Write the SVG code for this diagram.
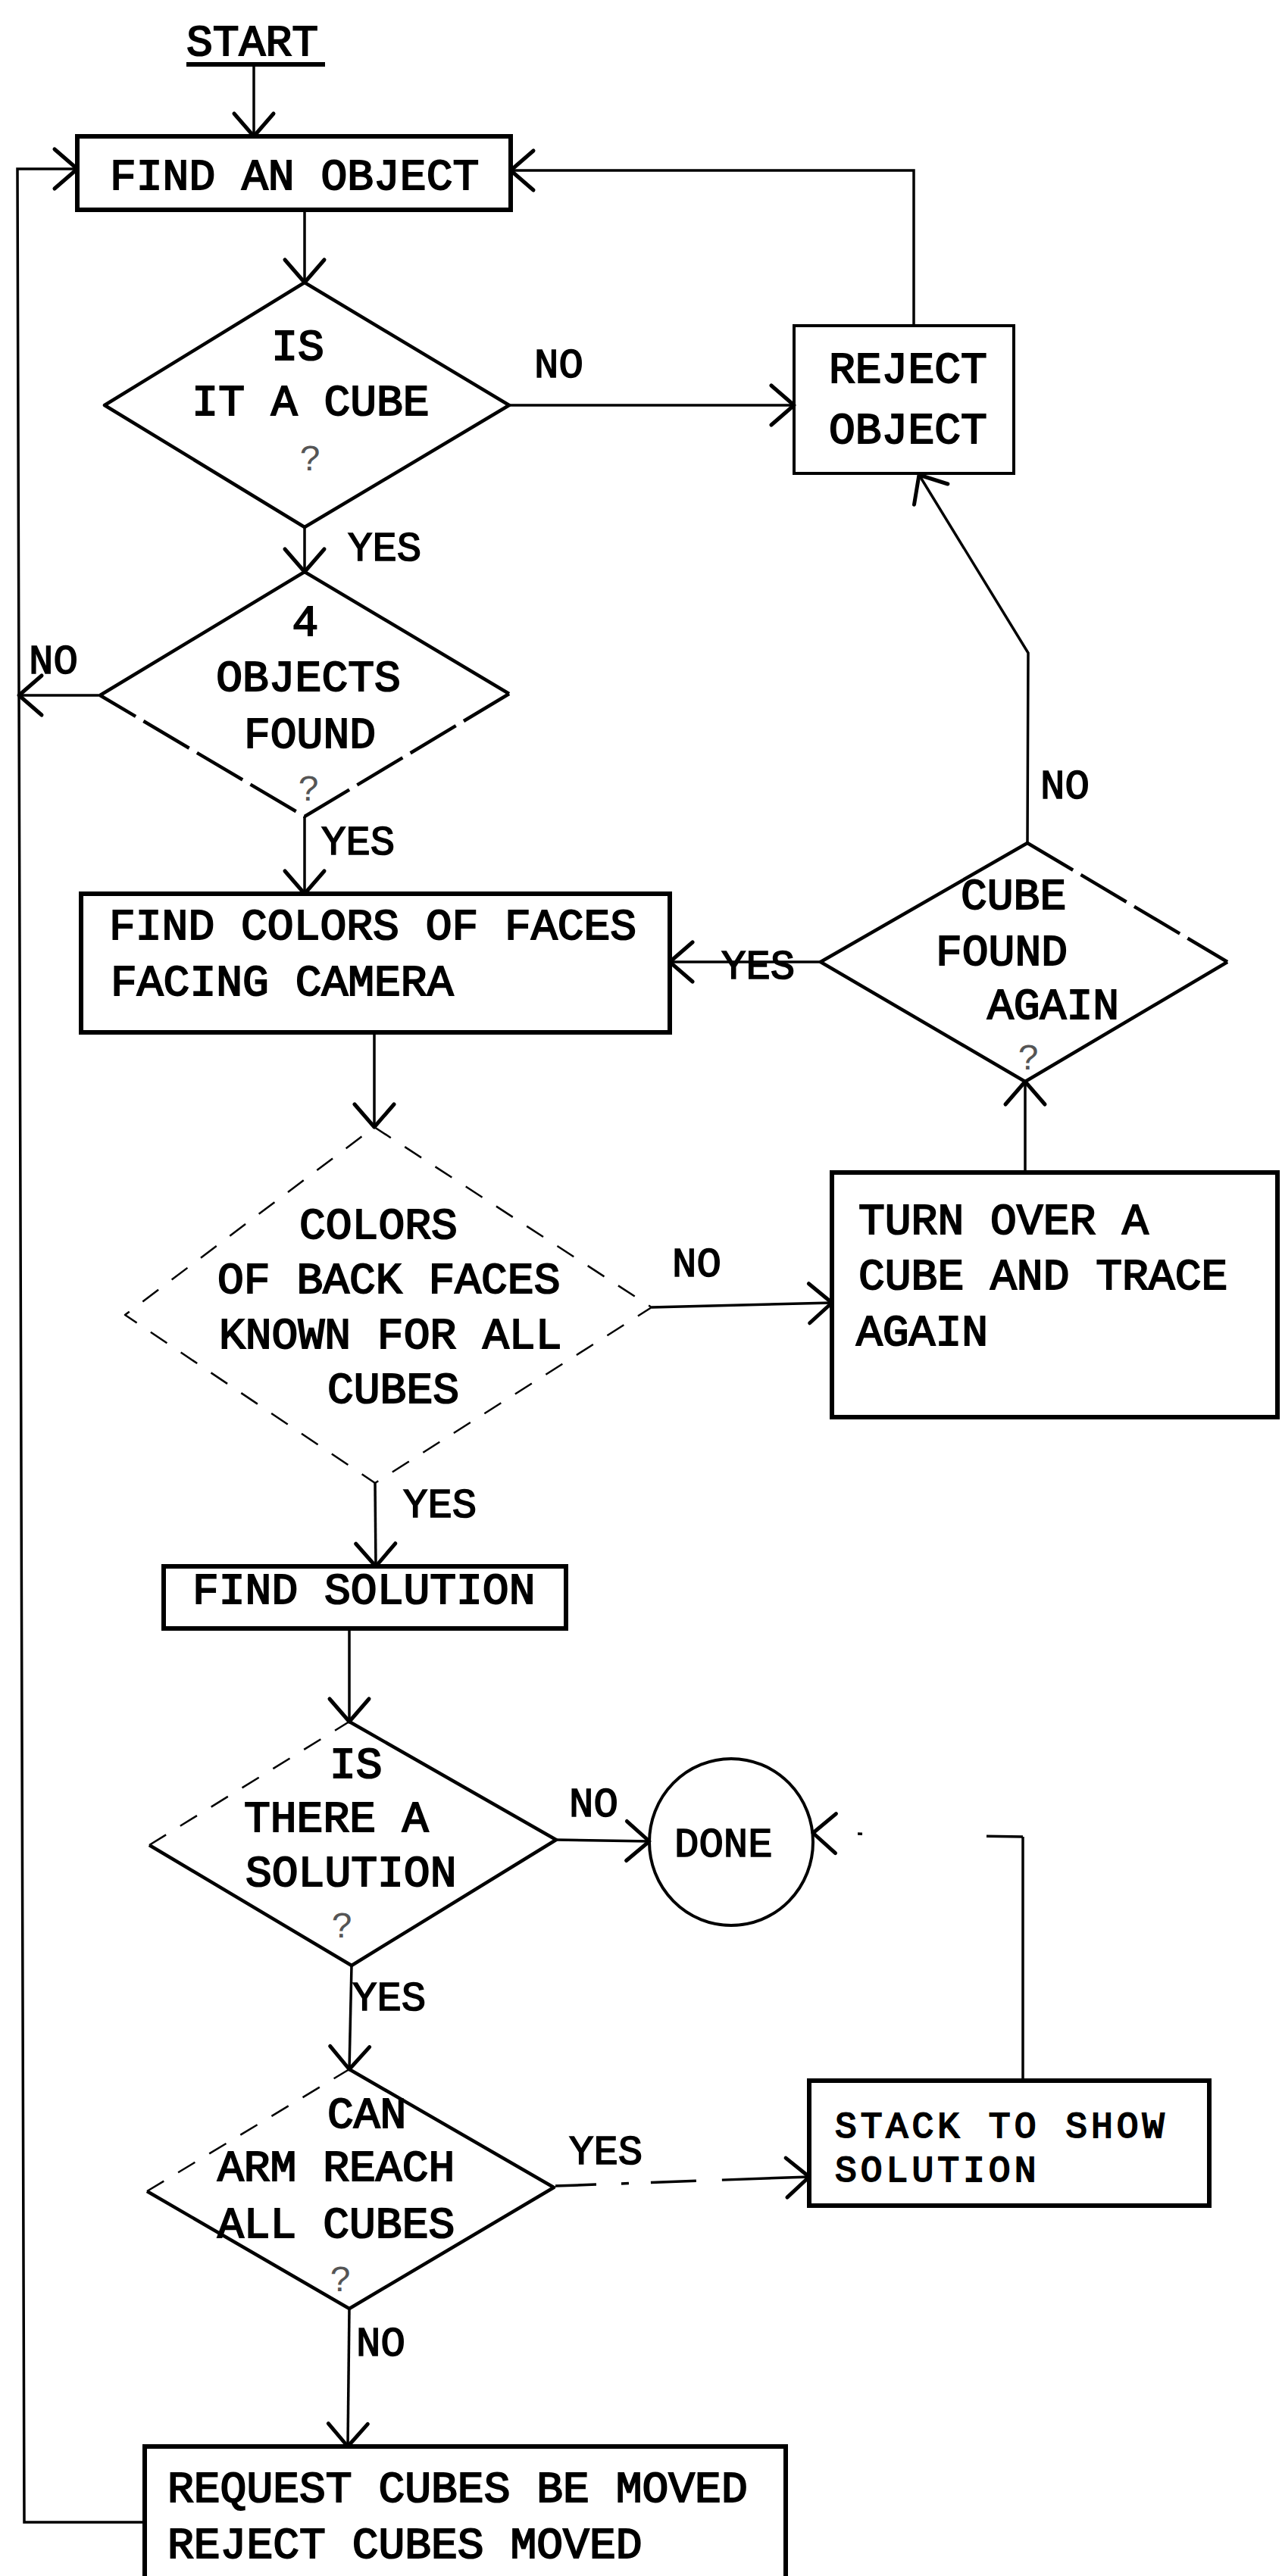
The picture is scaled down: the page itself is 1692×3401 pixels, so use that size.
<svg xmlns="http://www.w3.org/2000/svg" width="1692" height="3401" viewBox="0 0 1692 3401">
<style>
  .bg { fill: #ffffff; }
  .box { fill: none; stroke: #000; stroke-width: 6; stroke-linejoin: miter; }
  .thin { stroke-width: 4; }
  .edge { fill: none; stroke: #000; stroke-width: 4.5; stroke-linejoin: round; }
  .faded { stroke-width: 2.5; stroke-dasharray: 26 22; }
  .semi { stroke-dasharray: 70 12; }
  .conn { fill: none; stroke: #000; stroke-width: 3.5; }
  .t { font-family: "Liberation Mono", "Courier New", monospace; font-size: 58px; fill: #000; stroke: #000; stroke-width: 2; }
  .sm { font-size: 48px; letter-spacing: 5px; }
  .lbl { font-family: "Liberation Mono", "Courier New", monospace; font-size: 54px; fill: #000; stroke: #000; stroke-width: 1.6; }
  .q { font-family: "Liberation Mono", "Courier New", monospace; font-size: 48px; fill: #555; }
  .mid { text-anchor: middle; }
</style>
<defs>
  <marker id="ah" markerUnits="userSpaceOnUse" markerWidth="80" markerHeight="80" refX="0" refY="0" viewBox="-40 -40 80 80" orient="auto" overflow="visible">
    <path d="M-30,-26 L0,0 L-30,26" fill="none" stroke="#000" stroke-width="5" stroke-linecap="round" stroke-linejoin="round"/>
  </marker>
</defs>
<rect class="bg" x="0" y="0" width="1692" height="3401"/>

<g id="connectors">
  <path class="conn" d="M335,88 L335,180" marker-end="url(#ah)"/>
  <path class="conn" d="M402,277 L402,373" marker-end="url(#ah)"/>
  <path class="conn" d="M672,535 L1048,535" marker-end="url(#ah)"/>
  <path class="conn" d="M1206,430 L1206,225 L674,225" marker-end="url(#ah)"/>
  <path class="conn" d="M402,696 L402,755" marker-end="url(#ah)"/>
  <path class="conn" d="M132,918 L25,918" marker-end="url(#ah)"/>
  <path class="conn" d="M402,1078 L402,1180" marker-end="url(#ah)"/>
  <path class="conn" d="M494,1363 L494,1488" marker-end="url(#ah)"/>
  <path class="conn" d="M860,1726 L1098,1720" marker-end="url(#ah)"/>
  <path class="conn" d="M495,1958 L496,2068" marker-end="url(#ah)"/>
  <path class="conn" d="M1353,1548 L1353,1428" marker-end="url(#ah)"/>
  <path class="conn" d="M1083,1270 L884,1270" marker-end="url(#ah)"/>
  <path class="conn" d="M1356,1113 L1357,862 L1213,627" marker-end="url(#ah)"/>
  <path class="conn" d="M461,2150 L461,2273" marker-end="url(#ah)"/>
  <path class="conn" d="M734,2429 L857,2431" marker-end="url(#ah)"/>
  <path class="conn" d="M464,2595 L461,2732" marker-end="url(#ah)"/>
  <path class="conn" d="M733,2886 L1068,2874" stroke-dasharray="54 33 10 29 60 34 200" marker-end="url(#ah)"/>
  <path class="conn" d="M1350,2747 L1350,2425"/>
  <path class="conn" d="M1350,2425 L1073,2420" stroke-dasharray="48 164 6 200" marker-end="url(#ah)"/>
  <path class="conn" d="M461,3048 L459,3230" marker-end="url(#ah)"/>
  <path class="conn" d="M191,3330 L32,3330 L23,223 L102,223" marker-end="url(#ah)"/>
</g>

<g id="start">
  <text class="t" x="246" y="73">START</text>
  <line x1="246" y1="85" x2="429" y2="85" stroke="#000" stroke-width="6"/>
</g>

<g id="find-object">
  <rect class="box" x="102" y="180" width="572" height="97"/>
  <text class="t" x="145" y="250">FIND AN OBJECT</text>
</g>

<g id="is-cube">
  <path class="edge" d="M402,373 L672,535 L402,696 L138,535 Z"/>
  <text class="t mid" x="393" y="475">IS</text>
  <text class="t mid" x="410" y="548">IT A CUBE</text>
  <text class="q mid" x="410" y="621">?</text>
</g>
<g id="lbl-no1"><text class="lbl" x="705" y="498">NO</text></g>

<g id="reject-object">
  <rect class="box thin" x="1048" y="430" width="290" height="195"/>
  <text class="t" x="1094" y="505">REJECT</text>
  <text class="t" x="1094" y="585">OBJECT</text>
</g>

<g id="lbl-yes1"><text class="lbl" x="459" y="740">YES</text></g>

<g id="four-objects">
  <path class="edge" d="M132,918 L402,755 L672,916"/>
  <path class="edge semi" d="M672,916 L402,1078 L132,918"/>
  <text class="t mid" x="403" y="839">4</text>
  <text class="t mid" x="407" y="912">OBJECTS</text>
  <text class="t mid" x="409" y="987">FOUND</text>
  <text class="q mid" x="408" y="1057">?</text>
</g>
<g id="lbl-no2"><text class="lbl" x="38" y="889">NO</text></g>
<g id="lbl-yes2"><text class="lbl" x="424" y="1128">YES</text></g>

<g id="find-colors">
  <rect class="box" x="107" y="1180" width="777" height="183"/>
  <text class="t" x="144" y="1240">FIND COLORS OF FACES</text>
  <text class="t" x="146" y="1314">FACING CAMERA</text>
</g>

<g id="cube-found-again">
  <path class="edge" d="M1620,1270 L1353,1428 L1083,1270 L1356,1113"/>
  <path class="edge semi" d="M1356,1113 L1620,1270"/>
  <text class="t" x="1268" y="1200">CUBE</text>
  <text class="t" x="1235" y="1274">FOUND</text>
  <text class="t" x="1303" y="1345">AGAIN</text>
  <text class="q mid" x="1358" y="1412">?</text>
</g>
<g id="lbl-yes3"><text class="lbl" x="952" y="1292">YES</text></g>
<g id="lbl-no3"><text class="lbl" x="1373" y="1054">NO</text></g>

<g id="turn-over">
  <rect class="box" x="1098" y="1548" width="588" height="323"/>
  <text class="t" x="1133" y="1629">TURN OVER A</text>
  <text class="t" x="1133" y="1702">CUBE AND TRACE</text>
  <text class="t" x="1130" y="1776">AGAIN</text>
</g>

<g id="colors-known">
  <path class="edge faded" d="M494,1488 L860,1726 L495,1958 L165,1736 Z"/>
  <text class="t" x="395" y="1635">COLORS</text>
  <text class="t" x="287" y="1707">OF BACK FACES</text>
  <text class="t" x="289" y="1780">KNOWN FOR ALL</text>
  <text class="t" x="432" y="1852">CUBES</text>
</g>
<g id="lbl-no4"><text class="lbl" x="887" y="1685">NO</text></g>
<g id="lbl-yes4"><text class="lbl" x="532" y="2003">YES</text></g>

<g id="find-solution">
  <rect class="box" x="216" y="2068" width="531" height="82"/>
  <text class="t" x="254" y="2117">FIND SOLUTION</text>
</g>

<g id="is-solution">
  <path class="edge" d="M461,2273 L734,2429 L464,2595 L197,2436"/>
  <path class="edge faded" d="M197,2436 L461,2273"/>
  <text class="t" x="435" y="2347">IS</text>
  <text class="t" x="322" y="2418">THERE A</text>
  <text class="t" x="324" y="2490">SOLUTION</text>
  <text class="q mid" x="452" y="2558">?</text>
</g>
<g id="lbl-no5"><text class="lbl" x="751" y="2398">NO</text></g>

<g id="done">
  <ellipse cx="965" cy="2432" rx="108" ry="110" fill="none" stroke="#000" stroke-width="4"/>
  <text class="lbl" x="890" y="2451">DONE</text>
</g>

<g id="lbl-yes5"><text class="lbl" x="465" y="2654">YES</text></g>

<g id="arm-reach">
  <path class="edge" d="M461,2732 L731,2888 L461,3048 L194,2893"/>
  <path class="edge faded" d="M194,2893 L461,2732"/>
  <text class="t" x="432" y="2809">CAN</text>
  <text class="t" x="287" y="2879">ARM REACH</text>
  <text class="t" x="287" y="2954">ALL CUBES</text>
  <text class="q mid" x="450" y="3025">?</text>
</g>
<g id="lbl-yes6"><text class="lbl" x="751" y="2857">YES</text></g>
<g id="lbl-no6"><text class="lbl" x="470" y="3110">NO</text></g>

<g id="stack">
  <rect class="box" x="1068" y="2747" width="528" height="165"/>
  <text class="t sm" x="1102" y="2822">STACK TO SHOW</text>
  <text class="t sm" x="1102" y="2880">SOLUTION</text>
</g>

<g id="request-move">
  <rect class="box" x="191" y="3230" width="846" height="200"/>
  <text class="t" x="221" y="3303">REQUEST CUBES BE MOVED</text>
  <text class="t" x="221" y="3377">REJECT CUBES MOVED</text>
</g>
</svg>
